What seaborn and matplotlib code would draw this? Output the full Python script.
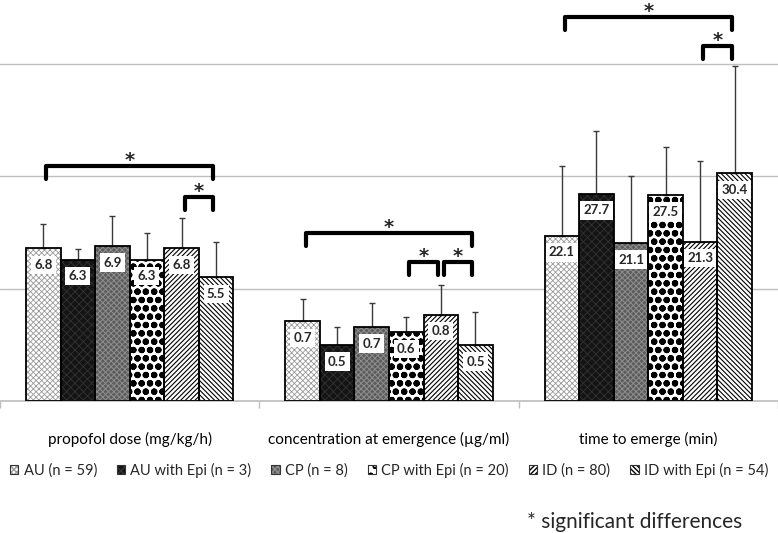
import numpy as np
import pandas as pd
import seaborn as sns
import matplotlib.pyplot as plt
from matplotlib.patches import Patch, Rectangle

# data
measures = ["propofol dose (mg/kg/h)", "concentration at emergence (µg/ml)", "time to emerge (min)"]
# one gridline step of the chart equals this many units of each measure
grid_step = [5, 1, 15]
groups = ["AU (n = 59)", "AU with Epi (n = 3)", "CP (n = 8)",
          "CP with Epi (n = 20)", "ID (n = 80)", "ID with Epi (n = 54)"]

propofol_mean = [6.8, 6.3, 6.9, 6.3, 6.8, 5.5]
propofol_sd = [1.1, 0.47, 1.33, 1.16, 1.37, 1.6]
conc_mean = [0.71, 0.50, 0.66, 0.61, 0.77, 0.50]
conc_sd = [0.20, 0.155, 0.21, 0.135, 0.26, 0.29]
time_mean = [22.1, 27.7, 21.1, 27.5, 21.3, 30.4]
time_sd = [9.3, 8.4, 8.9, 6.4, 10.8, 14.3]

# significance brackets: (measure index, first group, second group, height in grid steps)
brackets = [
    (0, 0, 5, 2.095), (0, 4, 5, 1.82),
    (1, 0, 5, 1.50), (1, 3, 4, 1.24), (1, 4, 5, 1.24),
    (2, 0, 5, 3.42), (2, 4, 5, 3.165),
]

# fill, hatch, hatch colour, hatch line width for each group
styles = [
    ("#ffffff", "xxxxxx", "#9a9a9a", 0.6),
    ("#141414", "xxxx", "#333333", 0.6),
    ("#5c5c5c", "xxxxxx", "#8e8e8e", 0.7),
    ("#ffffff", "oo", "#000000", 2.2),
    ("#ffffff", "///////", "#000000", 0.8),
    ("#ffffff", "\\\\\\\\\\\\\\", "#000000", 0.8),
]

means = [propofol_mean, conc_mean, time_mean]
sds = [propofol_sd, conc_sd, time_sd]

rows = []
for mi, m in enumerate(measures):
    for gi, g in enumerate(groups):
        rows.append({"measure": m, "group": g,
                     "height": means[mi][gi] / grid_step[mi],
                     "err": sds[mi][gi] / grid_step[mi],
                     "value": means[mi][gi]})
df = pd.DataFrame(rows)

sns.set_theme(style="white")
plt.rcParams["font.family"] = ["Lato", "DejaVu Sans"]

fig = plt.figure(figsize=(7.78, 5.33), dpi=100)
ax = fig.add_axes([0.0, 1 - 401 / 533, 1.0, 401 / 533])

sns.barplot(data=df, x="measure", y="height", hue="group", hue_order=groups,
            order=measures, errorbar=None, width=0.8, legend=False, ax=ax)


def style_patch(p, st):
    fc, hatch, hc, hlw = st
    p.set_facecolor(fc)
    p.set_hatch(hatch)
    p.set_edgecolor(hc)
    p.set_linewidth(0)
    if hasattr(p, "set_hatch_linewidth"):
        p.set_hatch_linewidth(hlw)


bars = [p for p in ax.patches if isinstance(p, Rectangle)]
bw = 0.8 / len(groups)
for p in bars:
    xc = p.get_x() + p.get_width() / 2
    mi = int(round(xc))
    gi = int(round((xc - mi + 0.4) / bw - 0.5))
    style_patch(p, styles[gi])
    ax.add_patch(Rectangle((p.get_x(), 0), p.get_width(), p.get_height(),
                           fill=False, edgecolor="black", linewidth=1.3, zorder=3))
    row = df[(df["measure"] == measures[mi]) & (df["group"] == groups[gi])].iloc[0]
    ax.errorbar(xc, row["height"], yerr=[[0], [row["err"]]], color="#3a3a3a",
                linewidth=1, capsize=2.5, capthick=1, zorder=2)
    ax.annotate(f"{row['value']:.1f}", xy=(xc, row["height"]), xytext=(0, -12),
                textcoords="offset points", ha="center", va="center",
                fontsize=9.5, fontweight="bold", zorder=5,
                bbox=dict(boxstyle="square,pad=0.25", fc="white", ec="none"))

# significance brackets
leg = 0.12
inset = 0.012
for mi, a, b, y in brackets:
    x1 = mi - 0.4 + bw * (a + 0.5) + inset
    x2 = mi - 0.4 + bw * (b + 0.5) - inset
    ax.plot([x1, x1, x2, x2], [y - leg, y, y, y - leg], color="black",
            linewidth=3, solid_joinstyle="round", solid_capstyle="round", zorder=4)
    ax.text((x1 + x2) / 2, y - 0.005, "*", ha="center", va="baseline",
            fontsize=14, fontweight="bold", family="DejaVu Sans")

ax.set_xlim(-0.5, 2.5)
ax.set_ylim(0, 401 / 112.3)
ax.set_yticks([1, 2, 3])
ax.set_yticklabels([])
ax.yaxis.grid(True, color="#bfbfbf", linewidth=1)
ax.set_axisbelow(True)
ax.set_xticks([0, 1, 2])
ax.set_xticks([-0.5, 0.5, 1.5, 2.5], minor=True)
ax.tick_params(axis="x", which="major", length=0, pad=22, labelsize=11, colors="black")
ax.tick_params(axis="x", which="minor", length=5, color="#bfbfbf", bottom=True)
ax.tick_params(axis="y", length=0)
ax.set_xlabel("")
ax.set_ylabel("")
for s in ["top", "left", "right"]:
    ax.spines[s].set_visible(False)
ax.spines["bottom"].set_color("#bfbfbf")

handles = []
for st in styles:
    hp = Patch()
    style_patch(hp, st)
    handles.append((hp, Patch(fill=False, edgecolor="#333333", linewidth=0.8)))
fig.legend(handles, groups, loc="center", bbox_to_anchor=(0.5, 1 - 470 / 533),
           ncol=6, frameon=False, fontsize=10.5, handlelength=0.6, handleheight=0.6,
           handletextpad=0.35, columnspacing=1.35, borderpad=0, borderaxespad=0)

fig.text(527 / 778, 1 - 522 / 533, "* significant differences", fontsize=15,
         ha="left", va="center")

fig.savefig("out.png", dpi=100)
